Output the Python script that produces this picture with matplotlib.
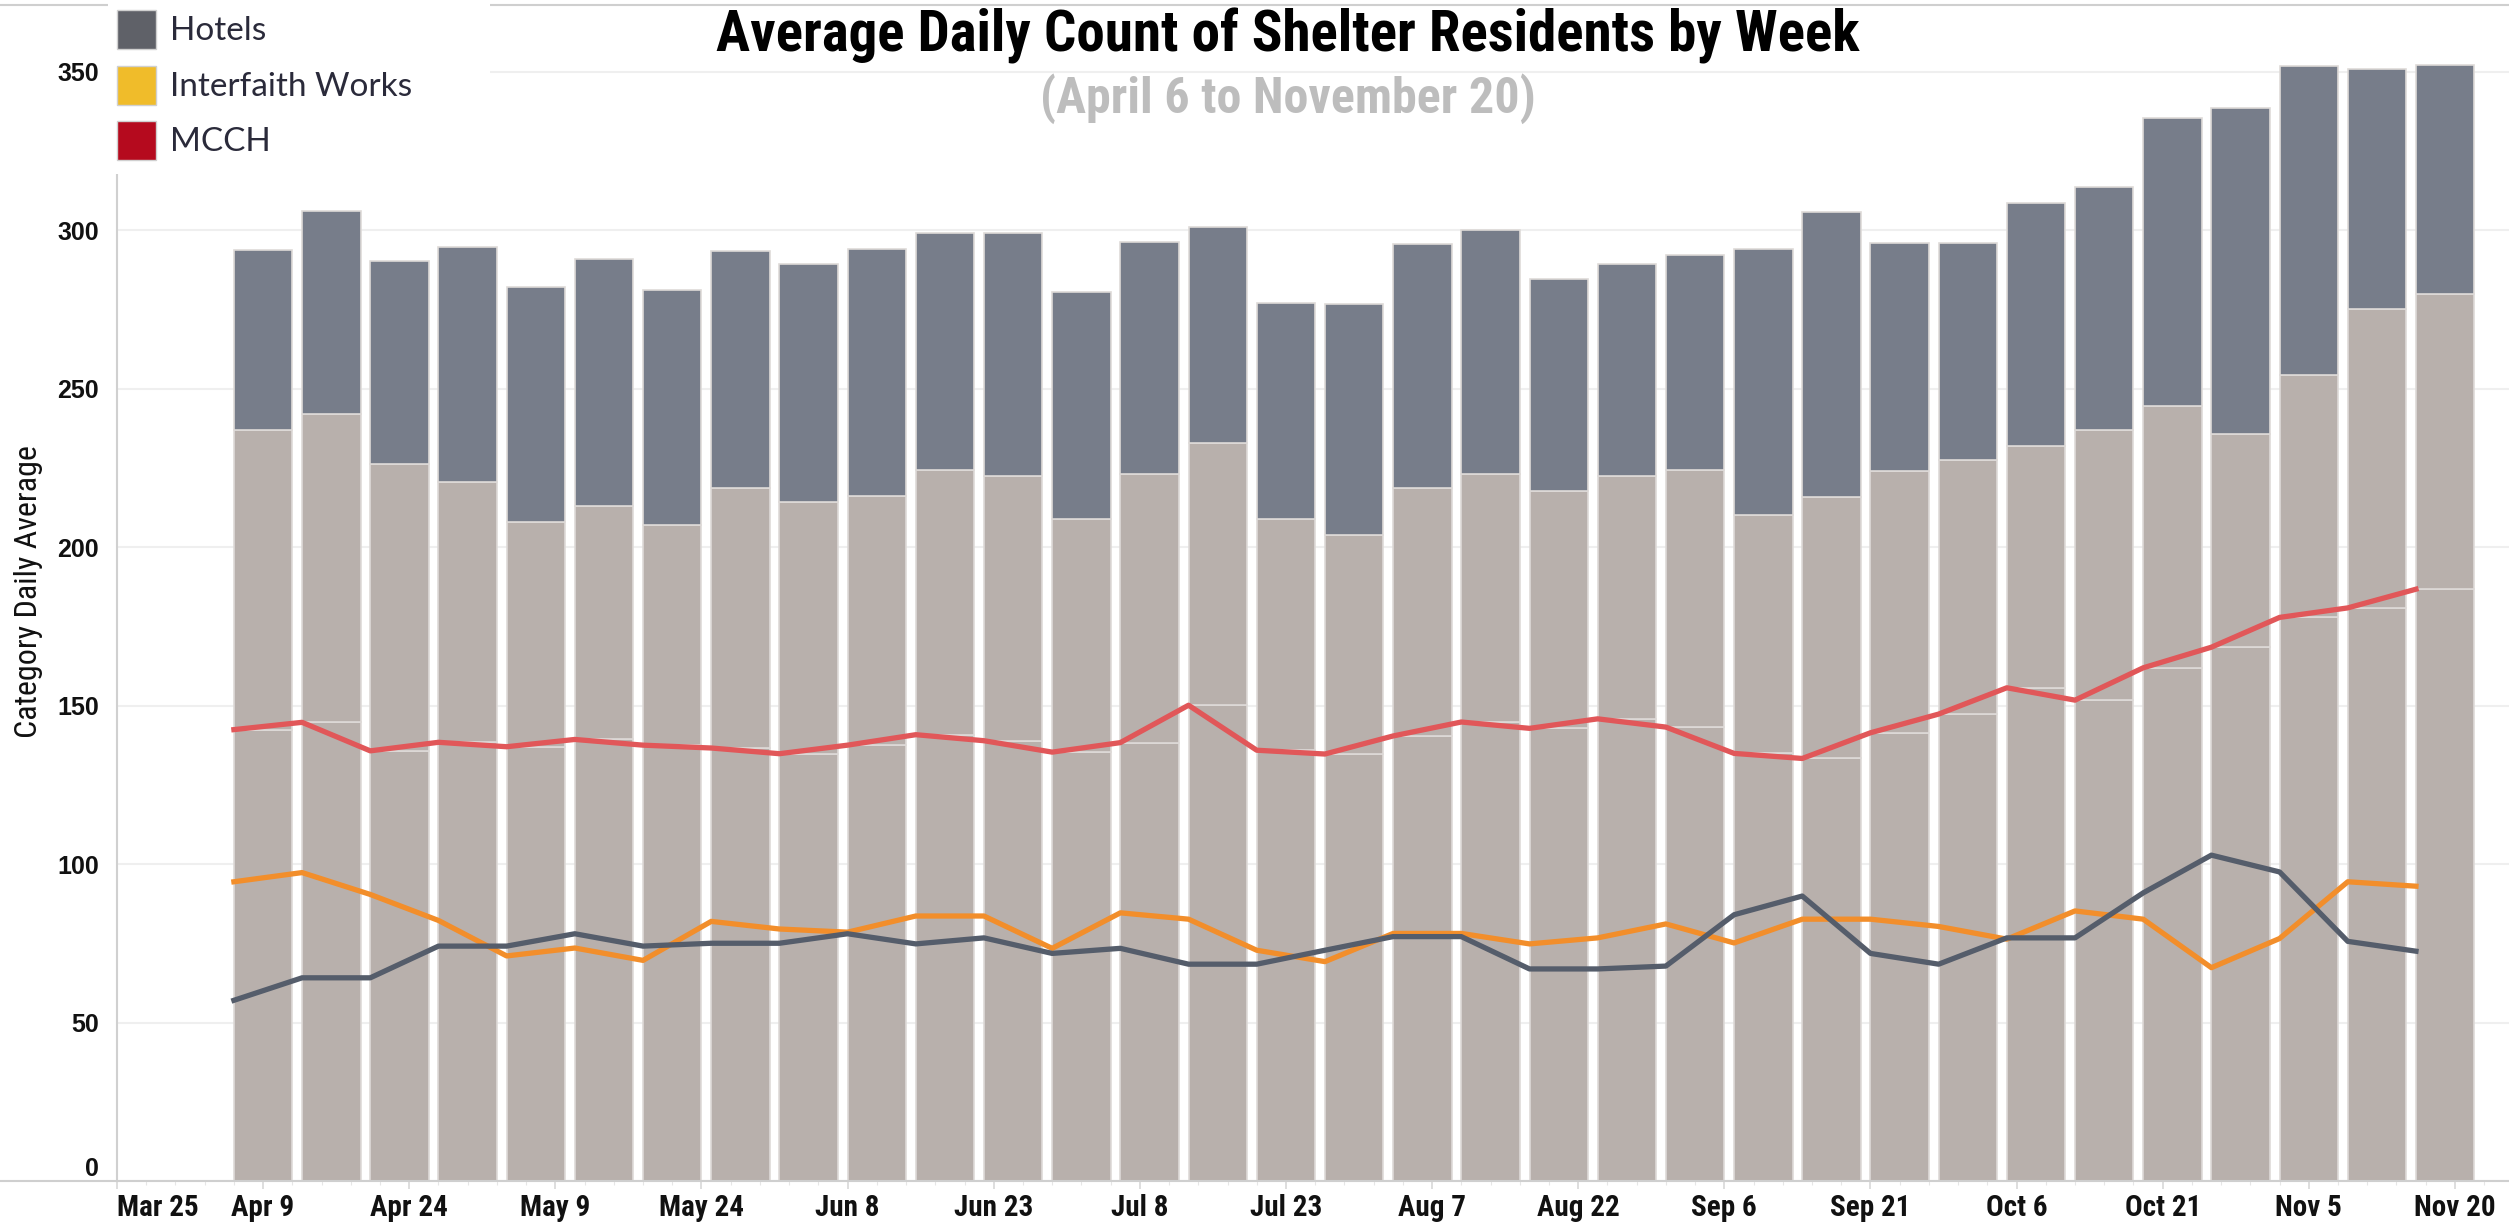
import matplotlib
matplotlib.use('Agg')
import matplotlib.pyplot as plt
import matplotlib.dates as mdates
from matplotlib import font_manager
from matplotlib.lines import Line2D
from matplotlib.patches import Rectangle
import numpy as np

# weekly averages (week start dates)
week_start = ['2020-04-06', '2020-04-13', '2020-04-20', '2020-04-27', '2020-05-04',
              '2020-05-11', '2020-05-18', '2020-05-25', '2020-06-01', '2020-06-08',
              '2020-06-15', '2020-06-22', '2020-06-29', '2020-07-06', '2020-07-13',
              '2020-07-20', '2020-07-27', '2020-08-03', '2020-08-10', '2020-08-17',
              '2020-08-24', '2020-08-31', '2020-09-07', '2020-09-14', '2020-09-21',
              '2020-09-28', '2020-10-05', '2020-10-12', '2020-10-19', '2020-10-26',
              '2020-11-02', '2020-11-09', '2020-11-16']
mcch = [142.4, 144.7, 135.7, 138.4, 137.0, 139.3, 137.5, 136.6, 134.8, 137.5,
        140.8, 138.9, 135.3, 138.3, 150.1, 135.9, 134.7, 140.4, 144.8, 142.8,
        145.8, 143.2, 134.9, 133.3, 141.4, 147.3, 155.6, 151.7, 161.9, 168.4,
        177.8, 180.8, 186.7]
interfaith = [94.4, 97.3, 90.4, 82.2, 71.0, 73.5, 69.6, 81.9, 79.5, 78.5,
              83.6, 83.6, 73.4, 84.6, 82.6, 72.8, 69.2, 78.1, 78.1, 74.8,
              76.7, 81.1, 75.1, 82.6, 82.6, 80.3, 76.3, 85.2, 82.6, 67.3,
              76.5, 94.4, 93.0]
hotels = [57.0, 64.1, 64.1, 74.1, 74.1, 78.0, 74.1, 75.0, 75.0, 78.0,
          74.8, 76.7, 71.8, 73.4, 68.4, 68.4, 72.8, 77.1, 77.1, 66.9,
          66.9, 67.8, 84.0, 89.9, 71.8, 68.4, 76.7, 76.7, 90.9, 102.8,
          97.5, 75.6, 72.5]

tick_dates = ['2020-03-25', '2020-04-09', '2020-04-24', '2020-05-09', '2020-05-24',
              '2020-06-08', '2020-06-23', '2020-07-08', '2020-07-23', '2020-08-07',
              '2020-08-22', '2020-09-06', '2020-09-21', '2020-10-06', '2020-10-21',
              '2020-11-05', '2020-11-20']
tick_labels = ['Mar 25', 'Apr 9', 'Apr 24', 'May 9', 'May 24', 'Jun 8', 'Jun 23',
               'Jul 8', 'Jul 23', 'Aug 7', 'Aug 22', 'Sep 6', 'Sep 21', 'Oct 6',
               'Oct 21', 'Nov 5', 'Nov 20']
y_ticks = [0, 50, 100, 150, 200, 250, 300, 350]

legend_names = ['Hotels', 'Interfaith Works', 'MCCH']
legend_colors = ['#5f6168', '#f0bc2a', '#b50a1e']


def pick_font(*names):
    have = {f.name for f in font_manager.fontManager.ttflist}
    for n in names:
        if n in have:
            return n
    return 'DejaVu Sans'


narrow = pick_font('Liberation Sans Narrow', 'Roboto Condensed', 'Open Sans Condensed',
                   'Liberation Sans')
arial = pick_font('Liberation Sans', 'Arial', 'DejaVu Sans')
legend_font = pick_font('Lato', 'Open Sans', 'DejaVu Sans')

W, H = 2509, 1222
fig = plt.figure(figsize=(W / 100, H / 100), dpi=100)


def fx(px):
    return px / W


def fy(py):
    return 1 - py / H


ax = fig.add_axes([fx(117), fy(1181), 1 - fx(117), (1181 - 5) / H])

x = mdates.datestr2num(week_start)
mcch_a = np.array(mcch)
iw_a = np.array(interfaith)
hot_a = np.array(hotels)

beige = '#b8b0ac'
slate = '#777d8a'
edge = '#dedad8'
ax.bar(x, mcch_a, width=6.0, align='edge', color=beige, edgecolor=edge, linewidth=1.2, zorder=2)
ax.bar(x, iw_a, bottom=mcch_a, width=6.0, align='edge', color=beige, edgecolor=edge,
       linewidth=1.2, zorder=2)
ax.bar(x, hot_a, bottom=mcch_a + iw_a, width=6.0, align='edge', color=slate,
       edgecolor=edge, linewidth=1.2, zorder=2)

ax.plot(x, mcch_a, color='#e15759', lw=3.8, zorder=4, solid_joinstyle='round')
ax.plot(x, iw_a, color='#f28e2b', lw=3.8, zorder=4, solid_joinstyle='round')
ax.plot(x, hot_a, color='#555d6b', lw=3.8, zorder=4, solid_joinstyle='round')

ax.set_xlim(mdates.datestr2num('2020-03-25'), mdates.datestr2num('2020-11-25') + 0.55)
ax.set_ylim(0, 371)

ax.set_yticks(y_ticks)
ax.set_yticklabels([str(v) for v in y_ticks], fontfamily=arial, fontweight='bold',
                   fontsize=18, color='#111111')
ax.tick_params(axis='y', length=0, pad=13)
ax.get_yticklabels()[0].set_va('bottom')
ax.yaxis.grid(True, color='#efefef', lw=1.5, zorder=0)
ax.set_axisbelow(True)

ax.set_xticks(mdates.datestr2num(tick_dates))
ax.set_xticklabels(tick_labels, fontfamily=narrow, fontweight='bold', fontsize=21,
                   color='#111111')
ax.get_xticklabels()[0].set_ha('left')
ax.tick_params(axis='x', length=6, width=1.2, color='#d8d8d8', pad=3)
ax.set_xticks(np.arange(mdates.datestr2num('2020-03-25'),
                        mdates.datestr2num('2020-11-26'), 3), minor=True)
ax.tick_params(axis='x', which='minor', length=3, width=0.8, color='#e6e6e6')

for side in ['top', 'right', 'bottom']:
    ax.spines[side].set_visible(False)
ax.spines['left'].set_color('#d0d0d0')
ax.spines['left'].set_linewidth(1.5)

# frame lines across the whole figure, like the dashboard
fig.add_artist(Line2D([0, 1], [fy(1181), fy(1181)], color='#cfcfcf', lw=1.5, zorder=1))
fig.add_artist(Line2D([0, 1], [fy(5), fy(5)], color='#cfcfcf', lw=1.5, zorder=1))

fig.text(fx(29), fy(592), 'Category Daily Average', rotation=90, ha='center', va='center',
         fontfamily=narrow, fontsize=23, color='#111111')

fig.text(fx(1288), fy(36), 'Average Daily Count of Shelter Residents by Week',
         ha='center', va='center', fontfamily=narrow, fontweight='bold', fontsize=41,
         color='black')
fig.text(fx(1288), fy(99), '(April 6 to November 20)', ha='center', va='center',
         fontfamily=narrow, fontweight='bold', fontsize=36, color='#bdbdbd')

# legend box in the top left corner
fig.add_artist(Rectangle((fx(108), fy(174)), fx(490) - fx(108), fy(0) - fy(174),
                         transform=fig.transFigure, facecolor='white', edgecolor='none',
                         zorder=3))
for i, (name, col) in enumerate(zip(legend_names, legend_colors)):
    top = 10 + i * 55.5
    fig.add_artist(Rectangle((fx(117), fy(top + 39)), fx(39), 39 / H,
                             transform=fig.transFigure, facecolor=col,
                             edgecolor='#d0d0d0', lw=1, zorder=4))
    fig.text(fx(170), fy(top + 21), name, ha='left', va='center', fontfamily=legend_font,
             fontsize=24, color='#2a2a3a', zorder=5)

fig.savefig('out.png', dpi=100)
